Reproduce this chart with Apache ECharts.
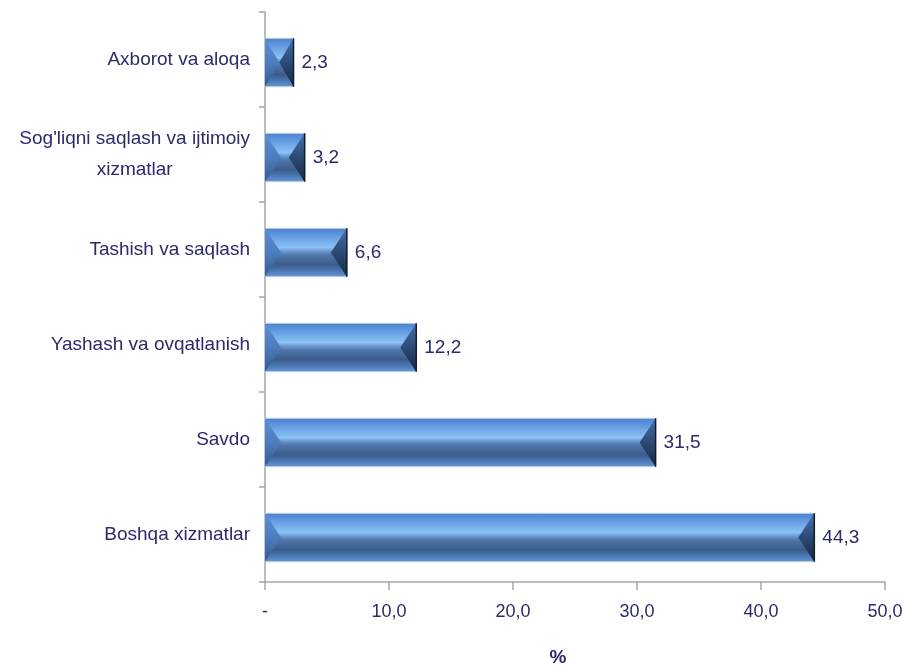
<!DOCTYPE html>
<html>
<head>
<meta charset="utf-8">
<script src="https://cdn.jsdelivr.net/npm/echarts@6/dist/echarts.min.js"></script>
<style>
  html, body { margin: 0; padding: 0; background: #fff; }
  #main { width: 904px; height: 666px; }
</style>
</head>
<body>
<div id="main"></div>
<script>
// categories from bottom to top
var categories = [
  'Boshqa xizmatlar',
  'Savdo',
  'Yashash va ovqatlanish',
  'Tashish va saqlash',
  "Sog'liqni saqlash va ijtimoiy\nxizmatlar",
  'Axborot va aloqa'
]
var values = [44.3, 31.5, 12.2, 6.6, 3.2, 2.3]
var xTicks = [0, 10, 20, 30, 40, 50]

var font = '"Liberation Sans Narrow", "Arial Narrow", "Liberation Sans", sans-serif'
var textColor = '#2a2a6c'
var axisColor = '#a6a6a6'

var chart = echarts.init(document.getElementById('main'))

function fmt (v) {
  return v.toFixed(1).replace('.', ',')
}

// 柱子本体的竖向渐变（模拟斜面）
function bodyGradient () {
  return new echarts.graphic.LinearGradient(0, 0, 0, 1, [
    {offset: 0, color: '#4a80c8'},
    {offset: 0.12, color: '#5b93dc'},
    {offset: 0.4, color: '#8cc2f6'},
    {offset: 0.46, color: '#6f9fd6'},
    {offset: 0.55, color: '#4f76aa'},
    {offset: 0.75, color: '#3a5c8a'},
    {offset: 0.9, color: '#4f7fbe'},
    {offset: 1, color: '#6a98d4'}
  ])
}

function renderBar (params, api) {
  var idx = api.value(0)
  var val = api.value(1)
  var start = api.coord([0, idx])
  var end = api.coord([val, idx])
  var band = api.size([0, 1])[1]
  var h = band * 0.51
  var x0 = start[0]
  var x1 = end[0]
  var yc = start[1] + 3
  var y0 = yc - h / 2
  var y1 = yc + h / 2
  var b = Math.min(16, (x1 - x0) / 2)
  return {
    type: 'group',
    children: [
      {
        type: 'rect',
        shape: {x: x0, y: y0, width: x1 - x0, height: h},
        style: {fill: bodyGradient(), stroke: '#c4d3e6', lineWidth: 1}
      },
      {
        // 左端斜面
        type: 'polygon',
        shape: {points: [[x0, y0], [x0 + b, yc], [x0, y1]]},
        style: {
          fill: new echarts.graphic.LinearGradient(0, 0, 0, 1, [
            {offset: 0, color: '#5b8fd4'},
            {offset: 0.5, color: '#4d7dbd'},
            {offset: 1, color: '#34598c'}
          ])
        }
      },
      {
        // 右端斜面
        type: 'polygon',
        shape: {points: [[x1, y0], [x1 - b, yc], [x1, y1]]},
        style: {
          fill: new echarts.graphic.LinearGradient(0, 0, 0, 1, [
            {offset: 0, color: '#4570a8'},
            {offset: 0.5, color: '#2c4a74'},
            {offset: 1, color: '#18283f'}
          ])
        }
      },
      {
        type: 'line',
        shape: {x1: x1, y1: y0, x2: x1, y2: y1},
        style: {stroke: '#101c2e', lineWidth: 1.5}
      },
      {
        type: 'text',
        style: {
          x: x1 + 8,
          y: yc,
          text: fmt(val),
          fill: textColor,
          font: '19px ' + font,
          verticalAlign: 'middle',
          align: 'left'
        }
      }
    ]
  }
}

var option = {
  animation: false,
  grid: {
    left: 265,
    right: 19,
    top: 12,
    bottom: 84,
    containLabel: false,
    outerBoundsMode: 'none'
  },
  xAxis: {
    type: 'value',
    min: 0,
    max: 50,
    interval: 10,
    name: '%',
    nameLocation: 'middle',
    nameGap: 66,
    nameTextStyle: {
      fontFamily: font,
      fontSize: 19,
      fontWeight: 'bold',
      color: textColor,
      padding: [0, 34, 0, 0]
    },
    axisLine: {show: true, lineStyle: {color: axisColor, width: 1.5}},
    axisTick: {show: true, length: 8, lineStyle: {color: axisColor, width: 1.5}},
    splitLine: {show: false},
    axisLabel: {
      margin: 21,
      fontFamily: font,
      fontSize: 18,
      color: textColor,
      formatter: function (v) {
        if (xTicks.indexOf(v) < 0) return ''
        if (v === 0) return '-'
        return fmt(v)
      }
    }
  },
  yAxis: {
    type: 'category',
    data: categories,
    axisLine: {show: true, lineStyle: {color: axisColor, width: 1.5}},
    axisTick: {show: true, length: 6, lineStyle: {color: axisColor, width: 1.5}},
    axisLabel: {
      margin: 15,
      color: textColor,
      // 多行标签每行居中
      formatter: function (v) {
        return v.split('\n').map(function (s) { return '{c|' + s + '}' }).join('\n')
      },
      rich: {
        c: {
          fontFamily: font,
          fontSize: 19,
          lineHeight: 31,
          color: textColor,
          align: 'center'
        }
      }
    }
  },
  series: [
    {
      type: 'custom',
      renderItem: renderBar,
      encode: {x: 1, y: 0},
      data: values.map(function (v, i) { return [i, v] })
    }
  ]
}

chart.setOption(option)
</script>
</body>
</html>
